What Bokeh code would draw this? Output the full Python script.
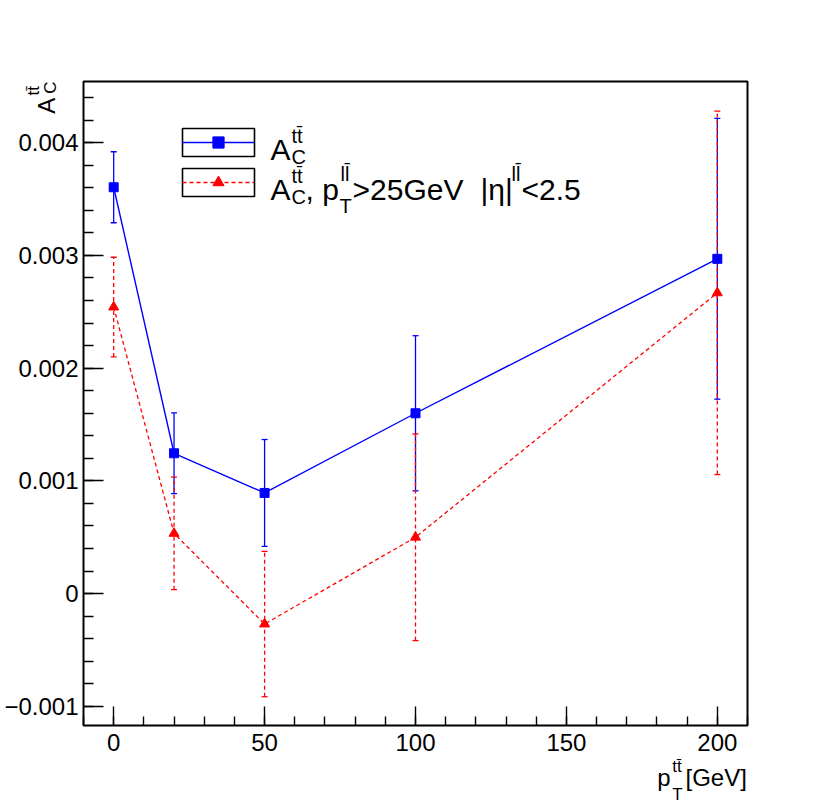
import math
from bokeh.plotting import figure
from bokeh.models import (ColumnDataSource, Range1d, FixedTicker, CustomJSTickFormatter,
                          Whisker, TeeHead, Label, Legend, LegendItem, BoxAnnotation)
from bokeh.embed import file_html
from bokeh.resources import INLINE

# ---------------- data ----------------
pt_bins = [0, 20, 50, 100, 200]
ac_all = [0.003605, 0.001245, 0.000893, 0.001600, 0.002970]
ac_all_err = [0.000315, 0.000358, 0.000474, 0.000688, 0.001245]
ac_cut = [0.002542, 0.000534, -0.000270, 0.000500, 0.002668]
ac_cut_err = [0.000442, 0.000499, 0.000645, 0.000917, 0.001612]

x_ticks = [0, 50, 100, 150, 200]
y_ticks = [-0.001, 0.0, 0.001, 0.002, 0.003, 0.004]

# ---------------- layout ----------------
W, H = 828, 804                      # canvas size (frame spans the whole canvas)
FL, FR, FT, FB = 83, 747, 81, 725    # visible plot box in canvas pixels
X0, X1 = -10.0, 210.0                # axis range shown inside the box
Y0, Y1 = -0.00117, 0.004543
SX = (FR - FL) / (X1 - X0)           # px per data unit
SY = (FB - FT) / (Y1 - Y0)
XS = X0 - FL / SX
XE = X1 + (W - FR) / SX
YE = Y1 + FT / SY
YS = Y0 - (H - FB) / SY

FONT = "Liberation Sans"
BLUE = "#0000ff"
RED = "#ff0000"

p = figure(width=W, height=H, output_backend="svg", toolbar_location=None,
           x_range=Range1d(XS, XE), y_range=Range1d(YS, YE),
           min_border=0, min_border_left=0, min_border_right=0,
           min_border_top=0, min_border_bottom=0)
p.background_fill_color = "white"
p.border_fill_color = "white"
p.outline_line_color = None
p.xgrid.visible = False
p.ygrid.visible = False

for ax in (p.xaxis[0], p.yaxis[0]):
    ax.axis_line_color = None
    ax.major_tick_line_color = "black"
    ax.minor_tick_line_color = "black"
    ax.major_tick_line_width = 1.4
    ax.minor_tick_line_width = 1.4
    ax.major_tick_out = 0
    ax.minor_tick_out = 0
    ax.major_label_text_font = FONT
    ax.major_label_text_font_size = "24px"
    ax.major_label_text_color = "black"

p.xaxis.fixed_location = Y0
p.yaxis.fixed_location = X0

p.xaxis.ticker = FixedTicker(ticks=x_ticks, minor_ticks=list(range(-10, 211, 10)))
p.xaxis.major_tick_in = 19
p.xaxis.minor_tick_in = 9
p.xaxis.major_label_standoff = 8

p.yaxis.ticker = FixedTicker(ticks=y_ticks,
                             minor_ticks=[round(-0.001 + 0.0002 * k, 6) for k in range(0, 28)])
p.yaxis.major_tick_in = 20
p.yaxis.minor_tick_in = 10
p.yaxis.major_label_standoff = 5
p.yaxis.formatter = CustomJSTickFormatter(code="""
if (Math.abs(tick) < 1e-12) { return "0"; }
const s = Math.abs(tick).toFixed(3);
return (tick < 0 ? "\u2212" : "") + s;
""")

# plot box
p.add_layout(BoxAnnotation(left=X0, right=X1, bottom=Y0, top=Y1,
                           fill_color=None, fill_alpha=0,
                           line_color="black", line_alpha=1.0, line_width=2))

# ---------------- series ----------------
src_all = ColumnDataSource(dict(
    x=pt_bins, y=ac_all,
    upper=[v + e for v, e in zip(ac_all, ac_all_err)],
    lower=[v - e for v, e in zip(ac_all, ac_all_err)]))
src_cut = ColumnDataSource(dict(
    x=pt_bins, y=ac_cut,
    upper=[v + e for v, e in zip(ac_cut, ac_cut_err)],
    lower=[v - e for v, e in zip(ac_cut, ac_cut_err)]))

p.add_layout(Whisker(source=src_all, base="x", upper="upper", lower="lower", dimension="height",
                     line_color=BLUE, line_width=1.3,
                     upper_head=TeeHead(size=6, line_color=BLUE, line_width=1.3),
                     lower_head=TeeHead(size=6, line_color=BLUE, line_width=1.3)))
blue_line = p.line(x="x", y="y", source=src_all, line_color=BLUE, line_width=1.4)
blue_pts = p.scatter(x="x", y="y", source=src_all, marker="square", size=9,
                     fill_color=BLUE, line_color=BLUE)

p.add_layout(Whisker(source=src_cut, base="x", upper="upper", lower="lower", dimension="height",
                     line_color=RED, line_width=1.3, line_dash="4 3",
                     upper_head=TeeHead(size=6, line_color=RED, line_width=1.3),
                     lower_head=TeeHead(size=6, line_color=RED, line_width=1.3)))
red_line = p.line(x="x", y="y", source=src_cut, line_color=RED, line_width=1.3, line_dash="4 3")
red_pts = p.scatter(x="x", y="y", source=src_cut, marker="triangle", size=10,
                    fill_color=RED, line_color=RED)

# ---------------- legend ----------------
LEG_LEFT, LEG_TOP = 182, 128
GW, GH, SP = 72, 28, 12
legend = Legend(items=[LegendItem(label=" ", renderers=[blue_line, blue_pts]),
                       LegendItem(label=" ", renderers=[red_line, red_pts])],
                location=(LEG_LEFT, H - LEG_TOP - (2 * GH + SP)),
                glyph_width=GW, glyph_height=GH,
                label_height=GH, label_width=1, spacing=SP, padding=0, margin=0,
                border_line_color=None, background_fill_alpha=0, label_standoff=0,
                label_text_font_size="10px")
p.add_layout(legend)


def dx(px):
    return XS + px / SX


def dy(py):
    return YE - py / SY


for k in range(2):
    top = LEG_TOP + k * (GH + SP)
    p.add_layout(BoxAnnotation(left=dx(LEG_LEFT), right=dx(LEG_LEFT + GW),
                               top=dy(top), bottom=dy(top + GH),
                               fill_color=None, fill_alpha=0,
                               line_color="black", line_alpha=1.0, line_width=1.6))


def txt(px, py, s, size, angle=0.0):
    p.add_layout(Label(x=dx(px), y=dy(py), text=s, text_font=FONT,
                       text_font_size=f"{size}px", text_align="left",
                       text_baseline="alphabetic", angle=angle, text_color="black"))


TT = "tt\u0304"
LL = "ll\u0304"

# legend texts
legend_texts = [
    ("A", 270, 149.3, 30), (TT, 291, 135, 20), ("C", 291, 156.7, 20),
    ("A", 270, 189, 30), (TT, 291, 175, 20), ("C", 291, 196.7, 20),
    (", p", 305, 189, 30), ("T", 339, 205, 20), (LL, 340, 173, 20),
    (">25GeV", 352, 189, 30), ("|\u03b7|", 480, 189, 30), (LL, 511, 173, 20),
    ("<2.5", 521, 189, 30),
]
for s, x, y, sz in legend_texts:
    txt(x, y, s, sz)

# x axis title
for s, x, y, sz in [("p", 656.7, 777, 24), (TT, 671.7, 766, 17), ("T", 671.7, 794, 17),
                    ("[GeV]", 685, 777, 24)]:
    txt(x, y, s, sz)

# y axis title (rotated)
for s, x, y, sz in [("A", 46.3, 113.3, 24), ("C", 49.7, 93.3, 17), (TT, 33, 95, 17)]:
    txt(x, y, s, sz, angle=math.pi / 2)

open("out.html", "w").write(file_html(p, INLINE))
